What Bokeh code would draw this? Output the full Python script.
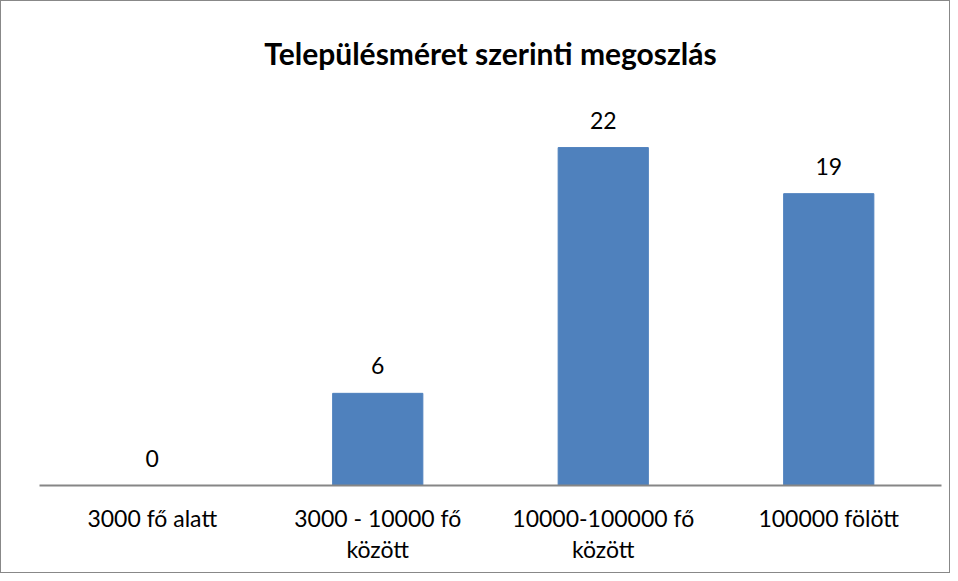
from bokeh.plotting import figure
from bokeh.models import ColumnDataSource, LabelSet, Range1d, FactorRange
from bokeh.core.properties import value
from bokeh.embed import file_html
from bokeh.resources import INLINE

categories = ["3000 fő alatt", "3000 - 10000 fő\nközött", "10000-100000 fő\nközött", "100000 fölött"]
values = [0, 6, 22, 19]
title_text = "Településméret szerinti megoszlás"

src = ColumnDataSource(dict(cat=categories, val=values, lbl=[str(v) for v in values]))

FONT = "Lato"
p = figure(x_range=FactorRange(*categories), y_range=Range1d(0, 25),
           width=950, height=573, output_backend="svg", toolbar_location=None,
           min_border_left=38, min_border_right=10, min_border_bottom=89, min_border_top=100)
p.title.text = title_text
p.title.align = "center"
p.title.text_font = FONT
p.title.text_font_size = "30px"
p.title.text_font_style = "bold"
p.title.text_color = "black"
p.title.offset = 0
p.title.standoff = 61

p.vbar(x="cat", top="val", width=0.4, source=src, color="#4F81BD")
p.add_layout(LabelSet(x="cat", y="val", text="lbl", source=src, text_align="center",
                      text_baseline="alphabetic", y_offset=19, text_font=value(FONT),
                      text_font_size=value("23px"), text_color="black"))

p.yaxis.visible = False
p.xgrid.visible = False
p.ygrid.visible = False
p.outline_line_color = None
p.xaxis.axis_line_color = "#868686"
p.xaxis.axis_line_width = 2
p.xaxis.major_tick_line_color = None
p.xaxis.minor_tick_line_color = None
p.xaxis.major_label_text_font = FONT
p.xaxis.major_label_text_font_size = "23px"
p.xaxis.major_label_text_line_height = 1.12
p.xaxis.major_label_text_color = "black"
p.xaxis.major_label_standoff = 12
p.x_range.range_padding = 0
p.styles = {"border": "1.5px solid #888888", "box-sizing": "border-box"}

open("out.html", "w").write(file_html(p, INLINE))
